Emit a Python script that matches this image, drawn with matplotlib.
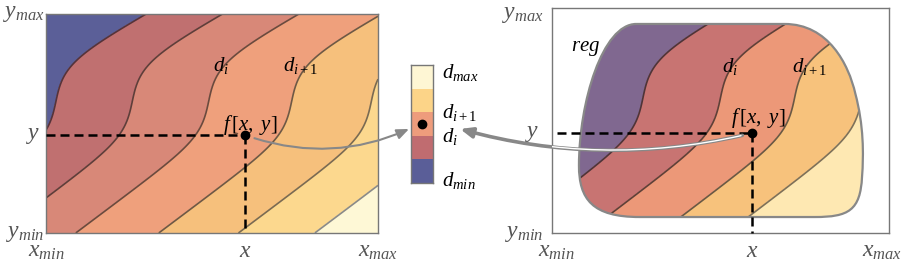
import numpy as np
import matplotlib.pyplot as plt
from matplotlib.path import Path
from matplotlib.patches import PathPatch, ConnectionPatch

plt.rcParams['font.family'] = ['Liberation Serif', 'DejaVu Serif']
plt.rcParams['mathtext.fontset'] = 'custom'
plt.rcParams['mathtext.it'] = 'Liberation Serif:italic'
plt.rcParams['mathtext.rm'] = 'Liberation Serif'
plt.rcParams['mathtext.bf'] = 'Liberation Serif:bold'

# f(x, y) = x - h(y): h rises with slope_lo below band_lo, is flat in the band,
# rises with slope_hi above band_hi
slope_lo, slope_hi = 0.88, 1.15
band_lo, band_hi = 0.455, 0.765
soft = 0.06

levels_left = [0.03, 0.26, 0.49, 0.74, 0.98, 1.21]
colors_left = ['#5B5F98', '#C07070', '#D88878', '#EFA07C', '#F6C07C', '#FCD88E', '#FEF8D6']
lines_left = ['#55333a', '#5e3e3a', '#6a4a3e', '#6e5845', '#7a6a52', '#8a8a88']

levels_right = [0.27, 0.50, 0.72, 0.92]
colors_right = ['#806890', '#C87472', '#EC9878', '#F7C27C', '#FEE8B2']
lines_right = ['#4e3438', '#5e4038', '#6a5844', '#7e7058']

legend_colors = ['#5A5E98', '#C06C70', '#EE9C7C', '#FCD488', '#FEF6D4']
legend_labels = [r'$d_{min}$', r'$d_i$', r'$d_{i+1}$', r'$d_{max}$']
legend_label_y = [0.1, 1.95, 3.0, 4.7]

point_left = (0.6, 0.447)
point_right = (0.593, 0.444)

# outline of reg (right panel, axes units)
region_verts = [(0.25, 0.929), (0.69, 0.929),
                (0.82, 0.929), (0.88, 0.75), (0.90, 0.62),
                (0.925, 0.48), (0.925, 0.35), (0.92, 0.25),
                (0.915, 0.10), (0.88, 0.071), (0.78, 0.071),
                (0.26, 0.071),
                (0.12, 0.071), (0.08, 0.15), (0.08, 0.30),
                (0.08, 0.58), (0.15, 0.929), (0.25, 0.929)]
region_codes = ([Path.MOVETO, Path.LINETO] + [Path.CURVE4] * 9 + [Path.LINETO]
                + [Path.CURVE4] * 6)

LABEL_GRAY = '#555555'
FS_AX = 17
FS_D = 15

u = np.linspace(0, 1, 600)
U, V = np.meshgrid(u, u)
H = soft * (slope_hi * np.logaddexp(0, (V - band_hi) / soft)
            - slope_lo * np.logaddexp(0, (band_lo - V) / soft))
F = U - H

fig = plt.figure(figsize=(9.06, 2.66), dpi=100)
axL = fig.add_axes([46 / 906, 33 / 266, 332 / 906, 219 / 266])
axR = fig.add_axes([552 / 906, 33 / 266, 337 / 906, 225 / 266])
axB = fig.add_axes([411 / 906, 83 / 266, 22 / 906, 118 / 266])

for ax in (axL, axR, axB):
    ax.set_xlim(0, 1)
    ax.set_xticks([])
    ax.set_yticks([])
    for s in ax.spines.values():
        s.set_color('#777777')
        s.set_linewidth(1.0)
axL.set_ylim(0, 1)
axR.set_ylim(0, 1)

# left panel
axL.contourf(U, V, F, levels=[-10] + levels_left + [10], colors=colors_left)
axL.contour(U, V, F, levels=levels_left, colors=lines_left, linewidths=1.2)

# right panel, clipped to reg
patch = PathPatch(Path(region_verts, region_codes), facecolor='none',
                  edgecolor='#888888', lw=1.6, transform=axR.transData, zorder=3)
csf = axR.contourf(U, V, F, levels=[-10] + levels_right + [10], colors=colors_right)
csl = axR.contour(U, V, F, levels=levels_right, colors=lines_right, linewidths=1.2)
csf.set_clip_path(patch)
csl.set_clip_path(patch)
axR.add_patch(patch)

# dashed guides and points
for ax, (px, py) in ((axL, point_left), (axR, point_right)):
    x0 = 0.0 if ax is axL else 0.015
    ax.plot([x0, px], [py, py], color='k', lw=1.8, dashes=(3.6, 2.0),
            clip_on=False, zorder=4)
    ax.plot([px, px], [py, 0], color='k', lw=1.8, dashes=(3.6, 2.0),
            clip_on=False, zorder=4)
    ax.plot(px, py, 'o', color='k', ms=6, zorder=5, clip_on=False)

# axis labels
def axis_labels(ax, px, py, xoff, ymax_y, xmin_x, xmax_x):
    kw = dict(color=LABEL_GRAY, fontsize=FS_AX, transform=ax.transAxes, clip_on=False)
    ax.text(xoff, ymax_y, r'$y_{max}$', ha='right', va='center', **kw)
    ax.text(xoff, 0.0, r'$y_{min}$', ha='right', va='center', **kw)
    ax.text(xoff - 0.012, py, r'$y$', ha='right', va='center', **kw)
    ax.text(xmin_x, -0.035, r'$x_{min}$', ha='center', va='top', **kw)
    ax.text(px, -0.035, r'$x$', ha='center', va='top', **kw)
    ax.text(xmax_x, -0.035, r'$x_{max}$', ha='center', va='top', **kw)

axis_labels(axL, *point_left, -0.004, 1.0, 0.0, 1.0)
axis_labels(axR, *point_right, -0.024, 0.973, 0.012, 0.98)

# contour value labels and f[x, y]
axL.text(0.503, 0.763, r'$d_i$', fontsize=FS_D, va='center', ha='left')
axL.text(0.714, 0.763, r'$d_{i+1}$', fontsize=FS_D, va='center', ha='left')
axR.text(0.504, 0.742, r'$d_i$', fontsize=FS_D, va='center', ha='left')
axR.text(0.712, 0.742, r'$d_{i+1}$', fontsize=FS_D, va='center', ha='left')
axL.text(0.614, 0.495, r'$f\,[x,\ y]$', fontsize=FS_D, ha='center', va='center', zorder=6)
axR.text(0.611, 0.509, r'$f\,[x,\ y]$', fontsize=FS_D, ha='center', va='center', zorder=6)
axR.text(0.10, 0.818, r'$reg$', fontsize=FS_D, ha='center', va='center', zorder=6)

# legend bar
axB.set_ylim(0, 5)
axB.bar(np.full(5, 0.5), np.ones(5), bottom=np.arange(5), width=1.0, color=legend_colors)
axB.plot(0.5, 2.5, 'o', color='k', ms=6)
for lab, yy in zip(legend_labels, legend_label_y):
    axB.text(1.4, yy, lab, fontsize=FS_D, ha='left', va='center', clip_on=False)

# arrows into the legend
arr_l = ConnectionPatch(xyA=point_left, coordsA=axL.transData, xyB=(-0.09, 2.29),
                        coordsB=axB.transData, arrowstyle='-|>,head_length=0.6,head_width=0.25',
                        mutation_scale=12, connectionstyle='arc3,rad=0.2',
                        shrinkA=7, shrinkB=0, color='#888888', lw=1.5, zorder=7)
fig.add_artist(arr_l)
arr_r = ConnectionPatch(xyA=point_right, coordsA=axR.transData, xyB=(2.23, 2.29),
                        coordsB=axB.transData, arrowstyle='-|>,head_length=0.6,head_width=0.25',
                        mutation_scale=12, connectionstyle='arc3,rad=-0.13',
                        shrinkA=7, shrinkB=0, color='#888888', lw=2.6, zorder=7)
fig.add_artist(arr_r)
arr_r_core = ConnectionPatch(xyA=point_right, coordsA=axR.transData, xyB=(2.23, 2.29),
                             coordsB=axB.transData, arrowstyle='-',
                             connectionstyle='arc3,rad=-0.13',
                             shrinkA=8, shrinkB=0, color='white', lw=1.0, zorder=8)
arr_r_core.set_clip_on(True)
arr_r_core.set_clip_box(axR.bbox)
fig.add_artist(arr_r_core)

fig.savefig('out.png', dpi=100)
